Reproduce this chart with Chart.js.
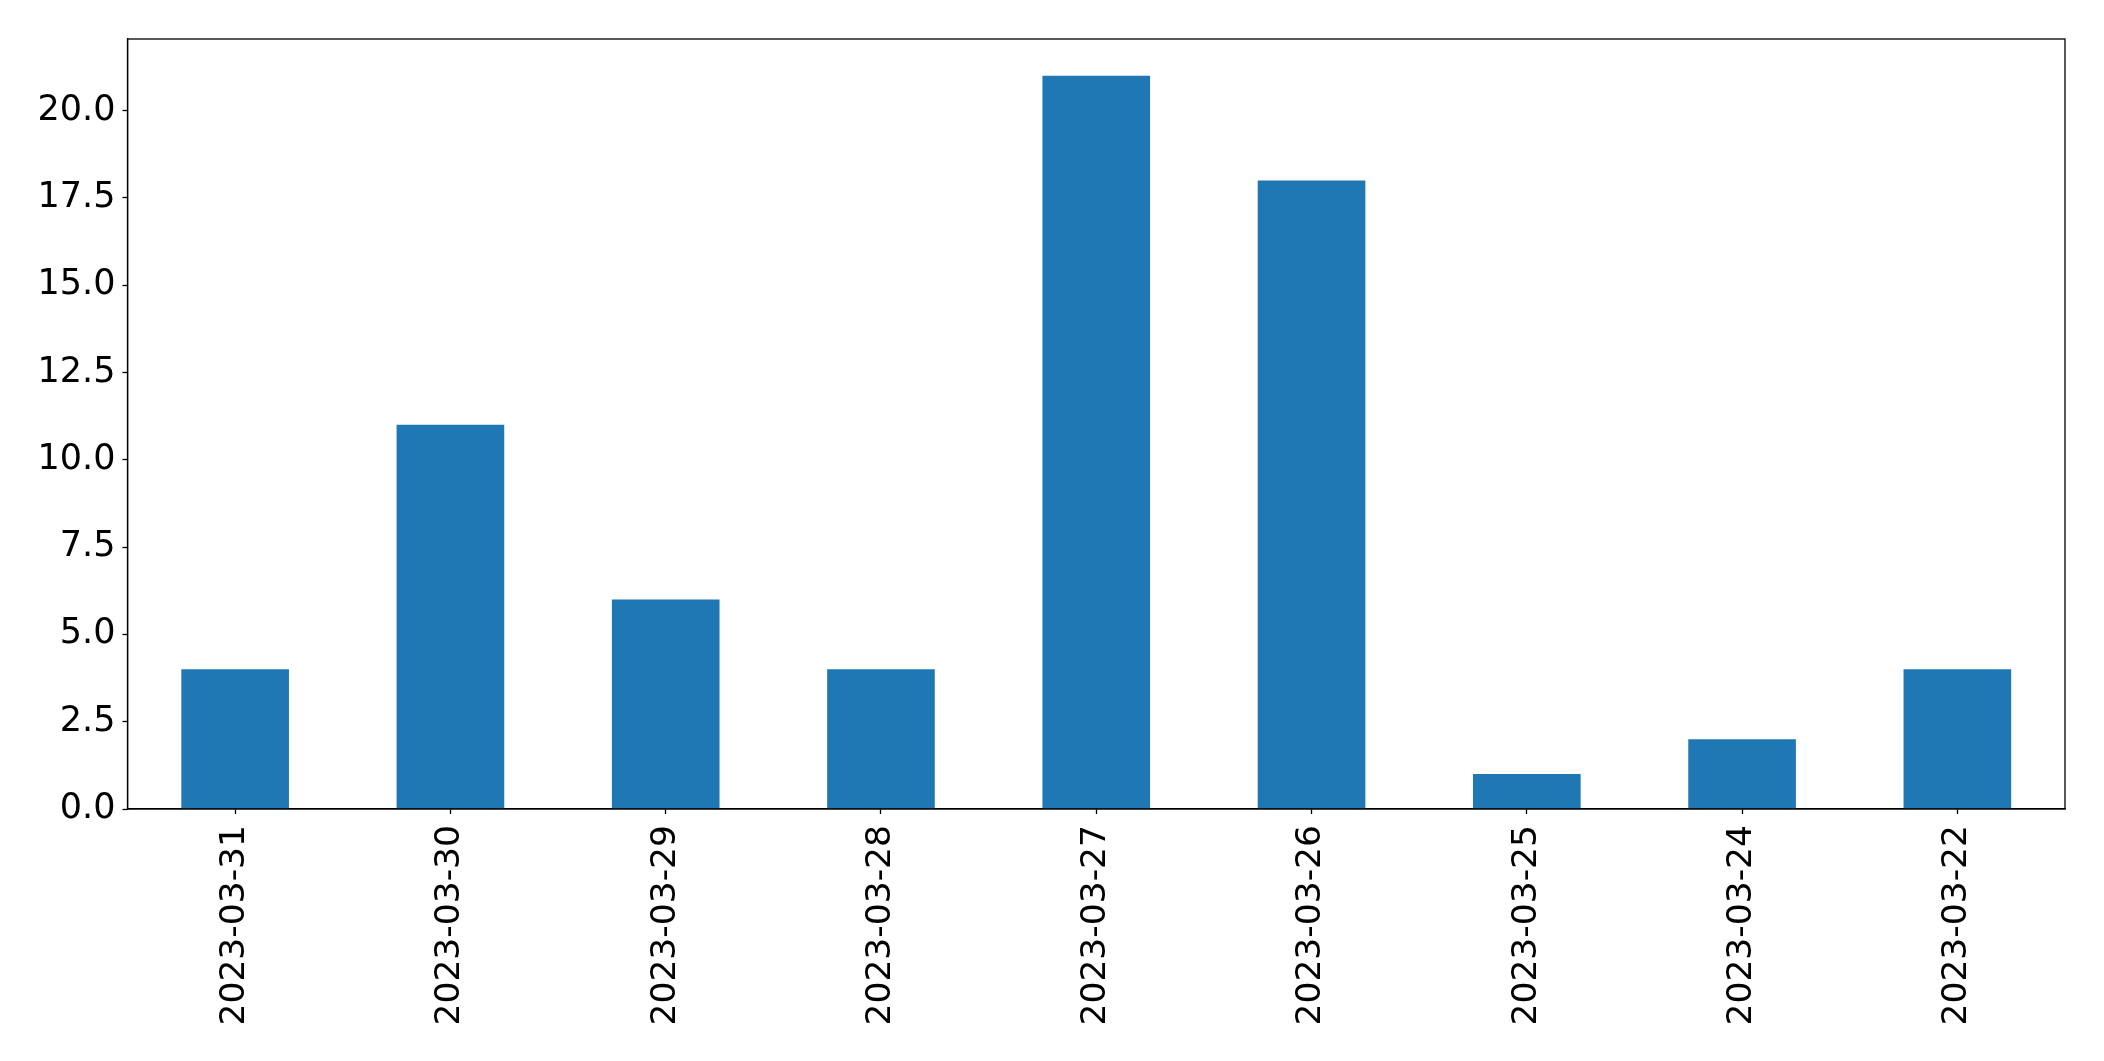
<!DOCTYPE html>
<html>
<head>
<meta charset="utf-8">
<script src="https://cdn.jsdelivr.net/npm/chart.js@4/dist/chart.umd.min.js"></script>
<style>
html,body{margin:0;padding:0;background:#fff;}
#wrap{width:2104px;height:1061px;}
</style>
</head>
<body>
<div id="wrap"><canvas id="c" width="2104" height="1061"></canvas></div>
<script>
const categories = ["2023-03-31","2023-03-30","2023-03-29","2023-03-28","2023-03-27","2023-03-26","2023-03-25","2023-03-24","2023-03-22"];
const values = [4, 11, 6, 4, 21, 18, 1, 2, 4];
const yTicks = [0, 2.5, 5, 7.5, 10, 12.5, 15, 17.5, 20];

const frame = {
  id: 'frame',
  afterDraw(chart) {
    const {ctx, chartArea: a} = chart;
    ctx.save();
    ctx.strokeStyle = '#000';
    ctx.lineWidth = 1.3;
    ctx.strokeRect(a.left, a.top, a.right - a.left, a.bottom - a.top);
    ctx.restore();
  }
};

new Chart(document.getElementById('c'), {
  type: 'bar',
  data: {
    labels: categories,
    datasets: [{
      data: values,
      backgroundColor: '#1f77b4',
      borderWidth: 0,
      barPercentage: 0.5,
      categoryPercentage: 1.0
    }]
  },
  options: {
    responsive: false,
    devicePixelRatio: 1,
    animation: false,
    events: [],
    layout: {padding: {left: 0, right: 39, top: 39, bottom: 0}},
    plugins: {legend: {display: false}, tooltip: {enabled: false}},
    scales: {
      x: {
        grid: {display: true, offset: false, drawOnChartArea: false, drawTicks: true, tickLength: 5, color: '#000', tickWidth: 1.3},
        border: {display: true, color: '#000', width: 1.3},
        ticks: {
          color: '#000', maxRotation: 90, minRotation: 90, autoSkip: false, padding: 11,
          font: {family: 'DejaVu Sans', size: 34.5}
        },
        afterFit(scale) { scale.height = 252; }
      },
      y: {
        min: 0, max: 22.05,
        grid: {display: true, drawOnChartArea: false, drawTicks: true, tickLength: 5, color: '#000', tickWidth: 1.3},
        border: {display: true, color: '#000', width: 1.3},
        afterBuildTicks(scale) { scale.ticks = yTicks.map(v => ({value: v})); },
        ticks: {
          color: '#000', padding: 7,
          font: {family: 'DejaVu Sans', size: 35},
          callback: v => Number(v).toFixed(1)
        },
        afterFit(scale) { scale.width = 127.5; }
      }
    }
  },
  plugins: [frame]
});
</script>
</body>
</html>
